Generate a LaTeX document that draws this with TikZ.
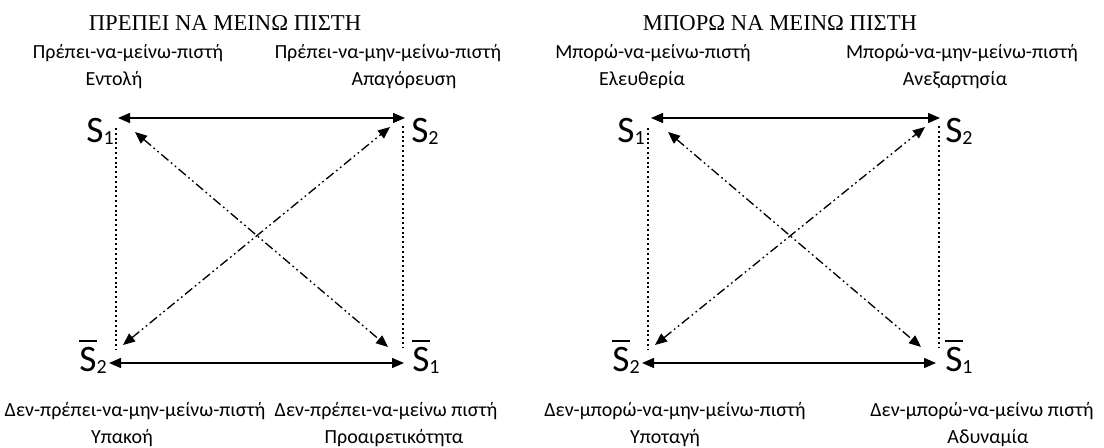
\documentclass[tikz,border=0pt]{standalone}
\usepackage{fontspec}
\setmainfont{Carlito}
\newfontfamily\titlefont{Liberation Serif}
\usetikzlibrary{arrows.meta}

\newcommand\labfont{\fontsize{15}{17}\selectfont}
\newcommand\symfont{\fontsize{28}{30}\selectfont}
\newcommand\subfont{\fontsize{15}{17}\selectfont}
% S with a numeric index
\newcommand\Sidx[1]{S\raisebox{-1pt}{\subfont #1}}
% negated S: bar over the S, then the index
\newcommand\Sneg[1]{\makebox[0pt][l]{\raisebox{0.8em}{\rule{0.47em}{0.07em}}}S\raisebox{-1pt}{\subfont #1}}

\tikzset{
  lab/.style={font=\labfont, inner sep=0pt},
  ttl/.style={font=\titlefont\fontsize{17}{19}\selectfont, inner sep=0pt},
  sym/.style={font=\symfont, inner sep=0pt},
  contrary/.style={line width=1.1pt, {Triangle[length=9pt,width=7.5pt]}-{Triangle[length=9pt,width=7.5pt]}},
  contradict/.style={line width=1pt, dash pattern=on 7pt off 2.5pt on 1.3pt off 2.5pt on 1.3pt off 2.5pt,
    {Triangle[length=9pt,width=7.5pt]}-{Triangle[length=9pt,width=7.5pt]}},
  subalt/.style={line width=1.8pt, dash pattern=on 1.5pt off 2.1pt}
}

\begin{document}
\begin{tikzpicture}[x=0.75pt,y=-0.75pt]
\path[use as bounding box] (0,0) rectangle (1104,448);

% ---------- left square: obligation ----------
\node[ttl] (ltitle) at (225,23) {ΠΡΕΠΕΙ ΝΑ ΜΕΙΝΩ ΠΙΣΤΗ};

\node[lab] (lA1) at (128,53) {Πρέπει-να-μείνω-πιστή};
\node[lab] (lA2) at (114,80) {Εντολή};
\node[lab] (lB1) at (388,53) {Πρέπει-να-μην-μείνω-πιστή};
\node[lab] (lB2) at (404,80) {Απαγόρευση};
\node[lab] (lC1) at (135,411) {Δεν-πρέπει-να-μην-μείνω-πιστή};
\node[lab] (lC2) at (122,438) {Υπακοή};
\node[lab] (lD1) at (386,411) {Δεν-πρέπει-να-μείνω πιστή};
\node[lab] (lD2) at (394,438) {Προαιρετικότητα};

\node[sym, anchor=base east] (ls1) at (114,143) {\Sidx{1}};
\node[sym, anchor=base west] (ls2) at (411,143) {\Sidx{2}};
\node[sym, anchor=base east] (ln2) at (107,372) {\Sneg{2}};
\node[sym, anchor=base west] (ln1) at (412,372) {\Sneg{1}};

\coordinate (lTa) at (118,118);  \coordinate (lTb) at (405,118);
\coordinate (lBa) at (109,363);  \coordinate (lBb) at (404,363);
\coordinate (lLa) at (116,128);  \coordinate (lLb) at (116,350);
\coordinate (lRa) at (403,126);  \coordinate (lRb) at (403,348);
\coordinate (lDa) at (135,132);  \coordinate (lDb) at (388,347);
\coordinate (lEa) at (123,345);  \coordinate (lEb) at (390,127);

\draw[contrary] (lTa) -- (lTb);
\draw[contrary] (lBa) -- (lBb);
\draw[subalt] (lLa) -- (lLb);
\draw[subalt] (lRa) -- (lRb);
\draw[contradict] (lDa) -- (lDb);
\draw[contradict] (lEa) -- (lEb);

% ---------- right square: permission ----------
\node[ttl] (rtitle) at (780,23) {ΜΠΟΡΩ ΝΑ ΜΕΙΝΩ ΠΙΣΤΗ};

\node[lab] (rA1) at (653,53) {Μπορώ-να-μείνω-πιστή};
\node[lab] (rA2) at (642,80) {Ελευθερία};
\node[lab] (rB1) at (962,53) {Μπορώ-να-μην-μείνω-πιστή};
\node[lab] (rB2) at (955,80) {Ανεξαρτησία};
\node[lab] (rC1) at (675,411) {Δεν-μπορώ-να-μην-μείνω-πιστή};
\node[lab] (rC2) at (665,438) {Υποταγή};
\node[lab] (rD1) at (982,411) {Δεν-μπορώ-να-μείνω πιστή};
\node[lab] (rD2) at (988,438) {Αδυναμία};

\node[sym, anchor=base east] (rs1) at (645,143) {\Sidx{1}};
\node[sym, anchor=base west] (rs2) at (945,143) {\Sidx{2}};
\node[sym, anchor=base east] (rn2) at (640,372) {\Sneg{2}};
\node[sym, anchor=base west] (rn1) at (945,372) {\Sneg{1}};

\coordinate (rTa) at (651,118);  \coordinate (rTb) at (940,118);
\coordinate (rBa) at (642,363);  \coordinate (rBb) at (936,363);
\coordinate (rLa) at (648,128);  \coordinate (rLb) at (648,350);
\coordinate (rRa) at (939,126);  \coordinate (rRb) at (939,348);
\coordinate (rDa) at (668,132);  \coordinate (rDb) at (921,347);
\coordinate (rEa) at (655,345);  \coordinate (rEb) at (925,127);

\draw[contrary] (rTa) -- (rTb);
\draw[contrary] (rBa) -- (rBb);
\draw[subalt] (rLa) -- (rLb);
\draw[subalt] (rRa) -- (rRb);
\draw[contradict] (rDa) -- (rDb);
\draw[contradict] (rEa) -- (rEb);
\end{tikzpicture}
\end{document}
